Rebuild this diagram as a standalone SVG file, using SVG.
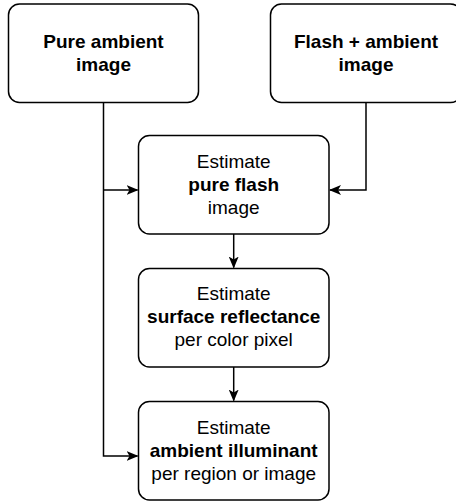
<svg xmlns="http://www.w3.org/2000/svg" width="456" height="502" viewBox="0 0 456 502">
<style>
.box{fill:#fff;stroke:#000;stroke-width:1.5}
.t{font-family:"Liberation Sans",Arial,Helvetica,sans-serif;font-size:19px;fill:#000;text-anchor:middle}
.b{font-weight:bold}
.c{fill:none;stroke:#000;stroke-width:1.5}
</style>
<defs>
<marker id="ar" viewBox="0 0 12 10" refX="11" refY="5" markerWidth="12" markerHeight="10" markerUnits="userSpaceOnUse" orient="auto">
<path d="M0,0 L12,5 L0,10 L3,5 Z" fill="#000"/>
</marker>
</defs>
<rect width="456" height="502" fill="#fff"/>
<g id="connectors">
<path class="c" d="M103.5,102.5 V456 H137.5" marker-end="url(#ar)"/>
<path class="c" d="M103.5,190 H137.5" marker-end="url(#ar)"/>
<path class="c" d="M366,102.5 V190 H330" marker-end="url(#ar)"/>
<path class="c" d="M233.7,234 V267.5" marker-end="url(#ar)"/>
<path class="c" d="M233.7,367 V400.5" marker-end="url(#ar)"/>
</g>
<g id="pure-ambient">
<rect class="box" x="8.5" y="4" width="190" height="98.5" rx="11"/>
<text class="t b" x="103.5" y="48">Pure ambient</text>
<text class="t b" x="103.5" y="71">image</text>
</g>
<g id="flash-ambient">
<rect class="box" x="270.5" y="4" width="191" height="98.5" rx="11"/>
<text class="t b" x="366" y="48">Flash + ambient</text>
<text class="t b" x="366" y="71">image</text>
</g>
<g id="pure-flash">
<rect class="box" x="138.5" y="135.5" width="190.5" height="98.5" rx="11"/>
<text class="t" x="233.7" y="168">Estimate</text>
<text class="t b" x="233.7" y="191">pure flash</text>
<text class="t" x="233.7" y="214">image</text>
</g>
<g id="surface-reflectance">
<rect class="box" x="138.5" y="268.5" width="190.5" height="98.5" rx="11"/>
<text class="t" x="233.7" y="300">Estimate</text>
<text class="t b" x="233.7" y="323">surface reflectance</text>
<text class="t" x="233.7" y="346">per color pixel</text>
</g>
<g id="ambient-illuminant">
<rect class="box" x="138.5" y="401.5" width="190.5" height="98.5" rx="11"/>
<text class="t" x="233.7" y="433.5">Estimate</text>
<text class="t b" x="233.7" y="456.5">ambient illuminant</text>
<text class="t" x="233.7" y="479.5">per region or image</text>
</g>
</svg>
